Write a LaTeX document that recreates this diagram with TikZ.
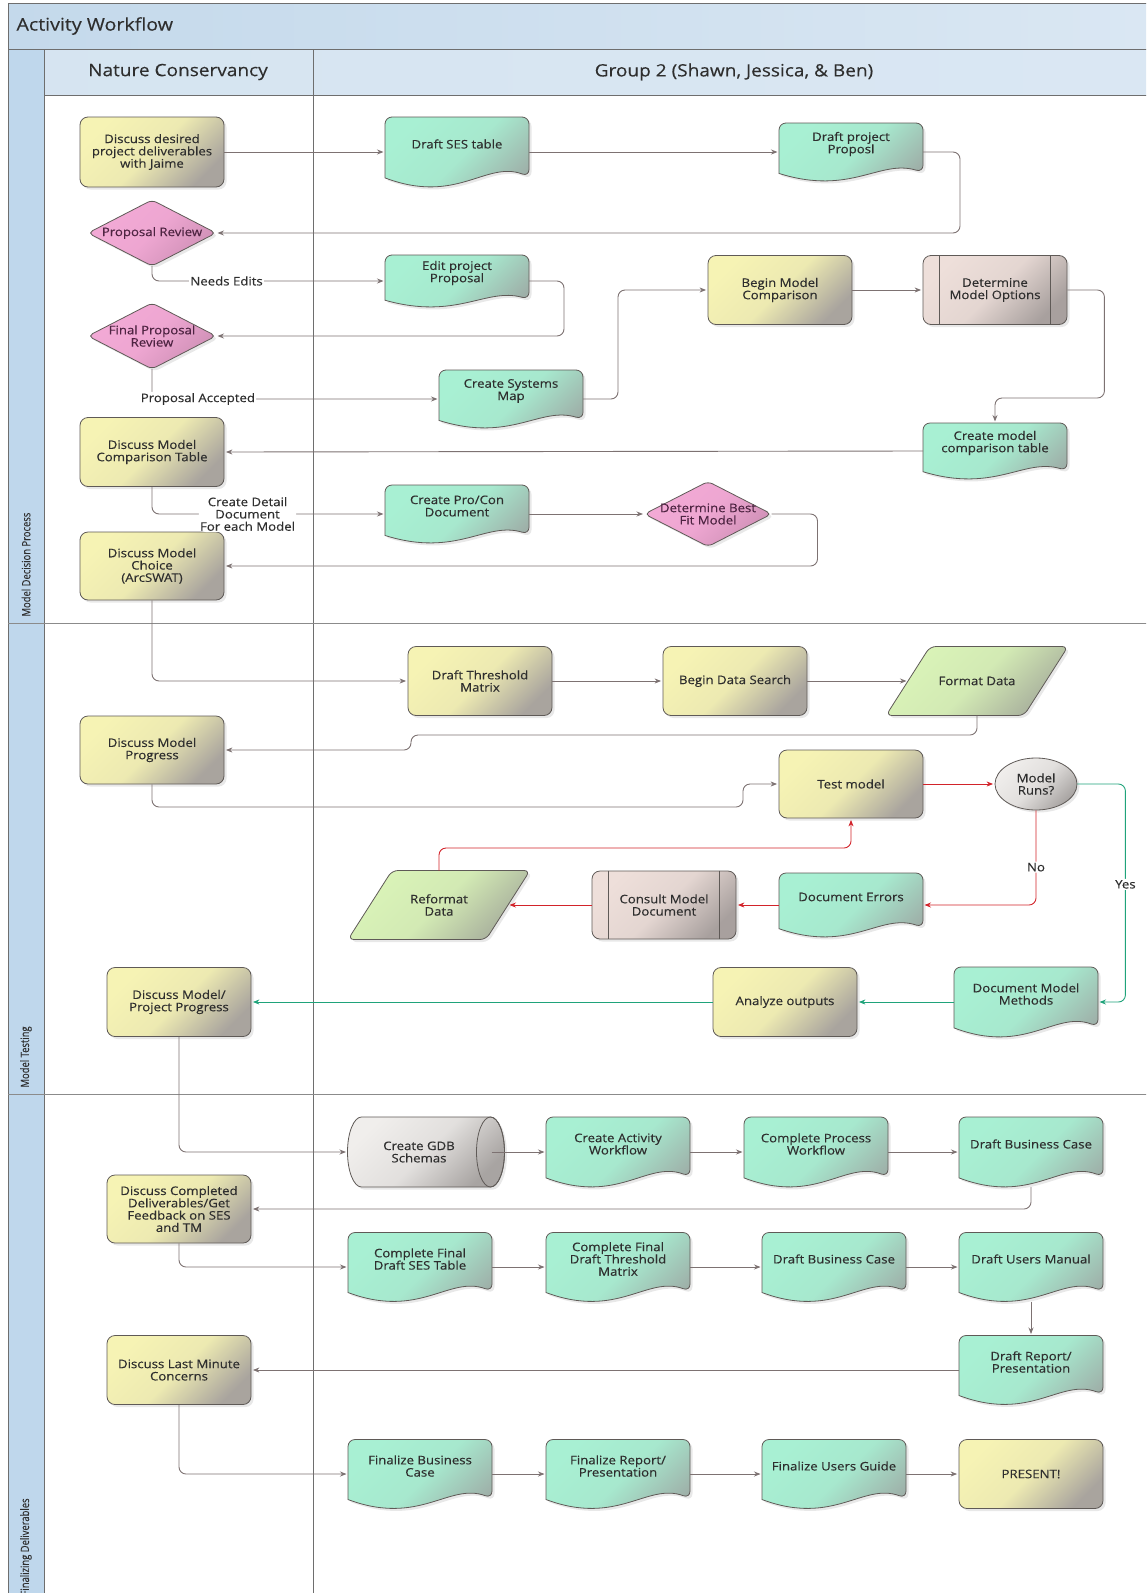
\documentclass[tikz,border=0pt]{standalone}
\usepackage{fontspec}
\setmainfont{Open Sans}[FakeStretch=1.12, FakeBold=0.3]
\newfontfamily\wfnarrow{Open Sans}[FakeStretch=0.82, FakeBold=0.2]
\usetikzlibrary{arrows.meta,shapes.geometric,shadows}
\definecolor{connc}{HTML}{7D7272}
\definecolor{shapeline}{HTML}{5F5A57}
\definecolor{redl}{HTML}{D2232A}
\definecolor{greenl}{HTML}{1FA37A}
\definecolor{yel1}{HTML}{F6F3B4}
\definecolor{yel2}{HTML}{A9A49E}
\definecolor{grn1}{HTML}{A8F0D3}
\definecolor{grn2}{HTML}{9EAFA8}
\definecolor{pnk1}{HTML}{F3AAD6}
\definecolor{pnk2}{HTML}{CF90B6}
\definecolor{gry1}{HTML}{F0EEEC}
\definecolor{gry2}{HTML}{A8A4A2}
\definecolor{brn1}{HTML}{EEDFDA}
\definecolor{brn2}{HTML}{A8A09E}
\definecolor{lgr1}{HTML}{DAF4B8}
\definecolor{lgr2}{HTML}{A7AE9C}
\definecolor{band}{HTML}{BFD7EC}
\definecolor{head1}{HTML}{C4D9EB}
\definecolor{head2}{HTML}{DAE7F3}
\definecolor{framec}{HTML}{6E6E6E}
\definecolor{txt}{HTML}{2E2E2E}
\definecolor{diatxt}{HTML}{4E2442}
\newcommand\wfnf{\fontsize{11.8}{12.3}\selectfont}
\tikzset{
 outl/.style={draw=shapeline, line width=0.8pt},
 shadowed/.style={drop shadow={opacity=0.18, shadow xshift=2.5pt, shadow yshift=-2.5pt}},
 yelfill/.style={top color=yel1, bottom color=yel2, middle color=yel1!88!yel2, shading angle=45},
 grnfill/.style={top color=grn1, bottom color=grn2, middle color=grn1!88!grn2, shading angle=45},
 pnkfill/.style={top color=pnk1, bottom color=pnk2, middle color=pnk1!85!pnk2, shading angle=45},
 gryfill/.style={top color=gry1, bottom color=gry2, middle color=gry1!80!gry2, shading angle=45},
 brnfill/.style={top color=brn1, bottom color=brn2, middle color=brn1!85!brn2, shading angle=45},
 lgrfill/.style={top color=lgr1, bottom color=lgr2, middle color=lgr1!85!lgr2, shading angle=45},
 procbox/.style={rectangle, rounded corners=8pt, outl, yelfill, shadowed, minimum width=144pt, minimum height=69pt, align=center, font=\wfnf, text=txt, inner sep=2pt},
 predefbox/.style={procbox, brnfill},
 docshape/.style={outl, grnfill, shadowed},
 diashape/.style={outl, pnkfill, shadowed},
 parashape/.style={outl, lgrfill, shadowed},
 cylshape/.style={outl, gryfill, shadowed},
 anchorbox/.style={rectangle, inner sep=0pt, outer sep=0pt, draw=none, fill=none},
 ntext/.style={align=center, font=\wfnf, text=txt, inner sep=0pt},
 conn/.style={draw=connc, line width=0.9pt, rounded corners=7pt, -{Stealth[length=6.5pt,width=5pt]}, shorten >=1.5pt},
 redconn/.style={conn, draw=redl},
 grnconn/.style={conn, draw=greenl},
 lbl/.style={fill=white, inner sep=1.2pt, font=\wfnf, text=txt, align=center},
 phase/.style={rotate=90, anchor=west, font=\wfnarrow\fontsize{11.5}{13}\selectfont, text=txt},
 lane/.style={font=\fontsize{17}{20}\selectfont, text=txt},
}
% document shape: name, x, y, w, h, text
\newcommand\wfdoc[6]{%
 \path[docshape] ({#2-#4/2},{#3-#5/2+0.87*#5}) [rounded corners=7pt] -- ({#2-#4/2},{#3-#5/2}) -- ({#2+#4/2},{#3-#5/2}) -- ({#2+#4/2},{#3-#5/2+0.85*#5}) [sharp corners] .. controls ({#2-#4/2+0.7*#4},{#3-#5/2+0.62*#5}) and ({#2-#4/2+0.5*#4},{#3-#5/2+1.26*#5}) .. ({#2-#4/2},{#3-#5/2+0.87*#5}) -- cycle;
 \node[anchorbox, minimum width=#4pt, minimum height=#5pt] (#1) at (#2,#3) {};
 \node[ntext] (#1-t) at (#2,{#3-8}) {#6};
}
% diamond: name, x, y, w, h, text
\newcommand\wfdia[6]{%
 \path[diashape, rounded corners=5pt] ({#2-#4/2},#3) -- (#2,{#3-#5/2}) -- ({#2+#4/2},#3) -- (#2,{#3+#5/2}) -- cycle;
 \node[anchorbox, minimum width=#4pt, minimum height=#5pt] (#1) at (#2,#3) {};
 \node[ntext, text=diatxt] (#1-t) at (#2,#3) {#6};
}
% parallelogram: name, x, y, w, h, text
\newcommand\wfpara[6]{%
 \path[parashape, rounded corners=6pt] ({#2-#4/2},{#3+#5/2}) -- ({#2-#4/2+44},{#3-#5/2}) -- ({#2+#4/2},{#3-#5/2}) -- ({#2+#4/2-44},{#3+#5/2}) -- cycle;
 \node[anchorbox, minimum width={(#4-44)*1pt}, minimum height=#5pt] (#1) at (#2,#3) {};
 \node[ntext] (#1-t) at (#2,#3) {#6};
}
% horizontal cylinder: name, x, y, w, h, text
\newcommand\wfcyl[6]{%
 \path[cylshape] ({#2-#4/2+14},{#3-#5/2}) -- ({#2+#4/2-14},{#3-#5/2}) arc[start angle=90, end angle=-90, x radius=14pt, y radius={#5/2*1pt}] -- ({#2-#4/2+14},{#3+#5/2}) arc[start angle=270, end angle=90, x radius=14pt, y radius={#5/2*1pt}] -- cycle;
 \draw[outl] ({#2+#4/2-14},#3) ellipse[x radius=14pt, y radius={#5/2*1pt}];
 \node[anchorbox, minimum width=#4pt, minimum height=#5pt] (#1) at (#2,#3) {};
 \node[ntext] (#1-t) at ({#2-7},#3) {#6};
}
\newcommand\wfbars[1]{%
 \draw[outl] ([xshift=17pt]#1.north west) -- ([xshift=17pt]#1.south west);
 \draw[outl] ([xshift=-17pt]#1.north east) -- ([xshift=-17pt]#1.south east);
}
\begin{document}
\begin{tikzpicture}[x=1pt,y=-1pt]
\useasboundingbox (0,0) rectangle (1146,1593);
\clip (0,0) rectangle (1146,1593);
% ---------- background ----------
\fill[white] (0,0) rectangle (1146,1593);
\path[left color=head1, right color=head2] (8,3) rectangle (1150,49);
\fill[band] (8,49) rectangle (44,1600);
\path[left color=head1!70!white, right color=head2] (44,49) rectangle (1150,95);
\draw[framec, line width=1pt] (8,3) rectangle (1150,1600);
\draw[framec, line width=0.9pt] (8,49) -- (1150,49);
\draw[framec, line width=0.9pt] (44,49) -- (44,1600);
\draw[framec, line width=0.9pt] (44,95) -- (1150,95);
\draw[framec, line width=0.9pt] (313,49) -- (313,1600);
\draw[framec!80, line width=0.9pt] (8,623) -- (1150,623);
\draw[framec!80, line width=0.9pt] (8,1094) -- (1150,1094);
\node[anchor=west, font=\fontsize{17.5}{20}\selectfont, text=txt] (title) at (13,26) {Activity Workflow};
\node[lane] (lane1) at (178,72) {Nature Conservancy};
\node[lane] (lane2) at (734,72) {Group 2 (Shawn, Jessica, \& Ben)};
\node[phase] (ph1) at (26,620) {Model Decision Process};
\node[phase] (ph2) at (26,1091) {Model Testing};
\node[phase] (ph3) at (26,1599) {Finalizing Deliverables};
% ---------- Nature Conservancy lane ----------
\node[procbox, minimum height=70pt] (n1) at (152,152) {Discuss desired\\project deliverables\\with Jaime};
\wfdia{d1}{152}{233}{128}{66}{Proposal Review}
\wfdia{d2}{152}{336}{128}{66}{Final Proposal\\Review}
\node[procbox] (n2) at (152,452) {Discuss Model\\Comparison Table};
\node[procbox, minimum height=68pt] (n3) at (152,566) {Discuss Model\\Choice\\(ArcSWAT)};
\node[procbox, minimum height=68pt] (n4) at (152,750) {Discuss Model\\Progress};
\node[procbox] (n5) at (179,1002) {Discuss Model/\\Project Progress};
\node[procbox, minimum height=68pt] (n6) at (179,1209) {Discuss Completed\\Deliverables/Get\\Feedback on SES\\and TM};
\node[procbox] (n7) at (179,1370) {Discuss Last Minute\\Concerns};
% ---------- Group 2 lane ----------
\wfdoc{g1}{457}{152}{144}{70}{Draft SES table}
\wfdoc{g2}{851}{152}{144}{58}{Draft project\\Proposl}
\wfdoc{g3}{457}{281}{144}{52}{Edit project\\Proposal}
\node[procbox] (g4) at (780,290) {Begin Model\\Comparison};
\node[predefbox] (g5) at (995,290) {Determine\\Model Options};
\wfbars{g5}
\wfdoc{g6}{511}{399}{144}{58}{Create Systems\\Map}
\wfdoc{g7}{995}{451}{144}{56}{Create model\\comparison table}
\wfdoc{g8}{457}{514}{144}{58}{Create Pro/Con\\Document}
\wfdia{g9}{708}{514}{127}{65}{Determine Best\\Fit Model}
\node[procbox] (g10) at (480,681) {Draft Threshold\\Matrix};
\node[procbox] (g11) at (735,681) {Begin Data Search};
\wfpara{g12}{977}{681}{182}{69}{Format Data}
\node[procbox, minimum height=68pt] (g13) at (851,784) {Test model};
\node[ellipse, outl, gryfill, shadowed, minimum width=82pt, minimum height=52pt, inner sep=0pt, align=center, font=\wfnf, text=txt] (g14) at (1036,784) {Model\\Runs?};
\wfdoc{g15}{851}{905}{144}{64}{Document Errors}
\node[predefbox, minimum height=68pt] (g16) at (664,905) {Consult Model\\Document};
\wfbars{g16}
\wfpara{g17}{439}{905}{182}{69}{Reformat\\Data}
\wfdoc{g18}{1026}{1002}{144}{70}{Document Model\\Methods}
\node[procbox] (g19) at (785,1002) {Analyze outputs};
\wfcyl{g20}{426}{1152}{157}{70}{Create GDB\\Schemas}
\wfdoc{g21}{618}{1152}{144}{70}{Create Activity\\Workflow}
\wfdoc{g22}{816}{1152}{144}{70}{Complete Process\\Workflow}
\wfdoc{g23}{1031}{1152}{144}{70}{Draft Business Case}
\wfdoc{g24}{420}{1267}{144}{69}{Complete Final\\Draft SES Table}
\wfdoc{g25}{618}{1267}{144}{69}{Complete Final\\Draft Threshold\\Matrix}
\wfdoc{g26}{834}{1267}{144}{69}{Draft Business Case}
\wfdoc{g27}{1031}{1267}{144}{69}{Draft Users Manual}
\wfdoc{g28}{1031}{1370}{144}{69}{Draft Report/\\Presentation}
\wfdoc{g29}{420}{1474}{144}{69}{Finalize Business\\Case}
\wfdoc{g30}{618}{1474}{144}{69}{Finalize Report/\\Presentation}
\wfdoc{g31}{834}{1474}{144}{69}{Finalize Users Guide}
\node[procbox] (g32) at (1031,1474) {PRESENT!};
% ---------- helper coordinates ----------
\coordinate (j1) at (411,735);
\coordinate (j3) at (743,807);
\coordinate (j5) at (851,848);
% ---------- connectors ----------
\draw[conn] (n1.east) -- (g1.west);
\draw[conn] (g1.east) -- (g2.west);
\draw[conn] (g2.east) -- ++(37,0) |- (d1.east);
\draw[conn] (d1.south) |- (g3.west) node[lbl, pos=0.66] (lne) {Needs Edits};
\draw[conn] (g3.east) -- ++(35,0) |- (d2.east);
\draw[conn] (d2.south) |- (g6.west) node[lbl, pos=0.58] (lpa) {Proposal Accepted};
\draw[conn] (g6.east) -- ++(35,0) |- (g4.west);
\draw[conn] (g4.east) -- (g5.west);
\draw[conn] (g5.east) -- ++(37,0) -- ++(0,108) -| (g7.north);
\draw[conn] (g7.west) -- (n2.east);
\draw[conn] (n2.south) |- (g8.west) node[lbl, pos=0.705] (lcd) {Create Detail\\Document\\For each Model};
\draw[conn] (g8.east) -- (g9.west);
\draw[conn] (g9.east) -- ++(46,0) |- (n3.east);
\draw[conn] (n3.south) |- (g10.west);
\draw[conn] (g10.east) -- (g11.west);
\draw[conn] (g11.east) -- (g12.west);
\draw[conn] (g12.south) |- (j1) |- (n4.east);
\draw[conn] (n4.south) |- (j3) |- (g13.west);
\draw[redconn] (g13.east) -- (g14.west);
\draw[redconn] (g14.south) |- (g15.east) node[lbl, pos=0.3] (lno) {No};
\draw[redconn] (g15.west) -- (g16.east);
\draw[redconn] (g16.west) -- (g17.east);
\draw[redconn] (g17.north) |- (j5) -- (g13.south);
\draw[grnconn] (g14.east) -- ++(48,0) |- (g18.east) node[lbl, pos=0.23] (lyes) {Yes};
\draw[grnconn] (g18.west) -- (g19.east);
\draw[grnconn] (g19.west) -- (n5.east);
\draw[conn] (n5.south) |- (g20.west);
\draw[conn] ([xshift=-13pt]g20.east) -- (g21.west);
\draw[conn] (g21.east) -- (g22.west);
\draw[conn] (g22.east) -- (g23.west);
\draw[conn] (g23.south) |- (n6.east);
\draw[conn] (n6.south) |- (g24.west);
\draw[conn] (g24.east) -- (g25.west);
\draw[conn] (g25.east) -- (g26.west);
\draw[conn] (g26.east) -- (g27.west);
\draw[conn] (g27.south) -- (g28.north);
\draw[conn] (g28.west) -- (n7.east);
\draw[conn] (n7.south) |- (g29.west);
\draw[conn] (g29.east) -- (g30.west);
\draw[conn] (g30.east) -- (g31.west);
\draw[conn] (g31.east) -- (g32.west);
\end{tikzpicture}
\end{document}
